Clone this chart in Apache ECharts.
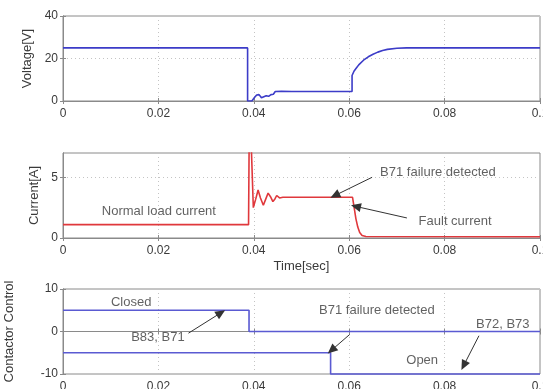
<!DOCTYPE html>
<html>
<head>
<meta charset="utf-8">
<script src="https://cdn.jsdelivr.net/npm/echarts@6/dist/echarts.min.js"></script>
<style>html,body{margin:0;padding:0;background:#fff}#c{width:543px;height:389px}</style>
</head>
<body>
<div id="c"></div>
<script>
// ---- data ----
var xTicks = [0, 0.02, 0.04, 0.06, 0.08, 0.1];

var voltT = [0, 0.0387, 0.0387, 0.0396, 0.0401, 0.0406, 0.0411, 0.0416, 0.0421, 0.0426, 0.0431, 0.0436, 0.0441, 0.0445, 0.0449, 0.0458, 0.0480, 0.0520, 0.0560, 0.0606, 0.0606, 0.0610, 0.0615, 0.0620, 0.0630, 0.0640, 0.0650, 0.0660, 0.0670, 0.0680, 0.0700, 0.0720, 0.0750, 0.1];
var voltV = [25, 25, 0, 0, 1.5, 2.8, 3.0, 1.5, 2.0, 2.5, 2.2, 3.0, 3.2, 4.5, 5.0, 4.6, 4.5, 4.5, 4.5, 4.5, 12, 14, 15.5, 17, 19.2, 20.8, 22, 23, 23.8, 24.3, 24.8, 25, 25, 25];

var currT = [0, 0.0389, 0.0391, 0.0395, 0.0399, 0.0404, 0.0409, 0.0414, 0.0420, 0.0425, 0.0430, 0.0435, 0.0440, 0.0444, 0.0448, 0.0454, 0.0461, 0.0607, 0.0610, 0.0614, 0.0618, 0.0622, 0.0627, 0.0635, 0.1];
var currA = [1.1, 1.1, 12, 12, 2.5, 3.2, 3.95, 3.3, 2.7, 3.2, 3.7, 3.4, 3.0, 3.2, 3.5, 3.3, 3.35, 3.35, 2.6, 1.6, 0.9, 0.45, 0.2, 0.12, 0.1];

var ctrl1T = [0, 0.0390, 0.0390, 0.1];
var ctrl1V = [5, 5, 0, 0];
var ctrl2T = [0, 0.0561, 0.0561, 0.1];
var ctrl2V = [-5, -5, -10, -10];

// y tick labels per panel
var voltTicks = [0, 20, 40];
var currTicks = [0, 5];
var ctrlTicks = [-10, 0, 10];

// annotations: text [t, value, label]; arrows [t0, v0, t1, v1]
var currTexts = [[0.0201, 2.2, 'Normal load current'], [0.0786, 5.4, 'B71 failure detected'], [0.0822, 1.4, 'Fault current']];
var currArrows = [[0.0648, 5.0, 0.0570, 3.5], [0.0721, 1.65, 0.0614, 2.6]];
var ctrlTexts = [[0.0143, 6.9, 'Closed'], [0.0199, -1.5, 'B83, B71'], [0.0658, 5.0, 'B71 failure detected'], [0.0922, 1.75, 'B72, B73'], [0.0753, -6.8, 'Open']];
var ctrlArrows = [[0.0263, -0.4, 0.0331, 4.4], [0.0601, -0.7, 0.0563, -4.4], [0.0872, -1.0, 0.0840, -8.0]];

// ---- chart ----
function zip(a, b) { return a.map(function (v, i) { return [v, b[i]]; }); }
var FONT = 'Liberation Sans';
var TXT = '#3a3a3a';
var AX = '#8a8a8a';

var grids = [
  { left: 63, right: 3, top: 16, height: 85 },
  { left: 63, right: 3, top: 153, height: 85 },
  { left: 63, right: 3, top: 289, height: 85 }
];
grids.forEach(function (g) {
  g.show = true; g.borderColor = AX; g.borderWidth = 1; g.backgroundColor = '#fff';
  g.containLabel = false; g.outerBoundsMode = 'none';
});

var xAxes = [], yAxes = [];
[0, 1, 2].forEach(function (i) {
  xAxes.push({
    gridIndex: i, type: 'value', min: 0, max: 0.1, interval: 0.02,
    axisLine: { show: true, lineStyle: { color: AX } },
    axisTick: { show: true, inside: true, length: 3, lineStyle: { color: AX } },
    axisLabel: { color: TXT, fontSize: 12, fontFamily: FONT, margin: 7, customValues: xTicks,
      formatter: function (v) { return v === 0 ? '0' : String(+(+v).toFixed(2)); } },
    splitLine: { show: true, lineStyle: { color: '#c4c4c4', type: [1, 3] } },
    name: i === 1 ? 'Time[sec]' : '', nameLocation: 'middle', nameGap: 22,
    nameTextStyle: { color: TXT, fontSize: 13, fontFamily: FONT }
  });
  xAxes.push({
    gridIndex: i, type: 'value', min: 0, max: 0.1, interval: 0.02, position: 'top',
    axisLine: { show: true, lineStyle: { color: AX } },
    axisTick: { show: true, inside: true, length: 3, lineStyle: { color: AX } },
    axisLabel: { show: false }, splitLine: { show: false }
  });
});
var yCfg = [
  { min: 0, max: 40, interval: 20, ticks: voltTicks, name: 'Voltage[V]', gap: 24 },
  { min: 0, max: 7, interval: 5, ticks: currTicks, name: 'Current[A]', gap: 18 },
  { min: -10, max: 10, interval: 10, ticks: ctrlTicks, name: 'Contactor Control', gap: 47 }
];
yCfg.forEach(function (c, i) {
  yAxes.push({
    gridIndex: i, type: 'value', min: c.min, max: c.max, interval: c.interval,
    axisLine: { show: true, lineStyle: { color: AX } },
    axisTick: { show: true, inside: true, length: 3, lineStyle: { color: AX }, customValues: c.ticks },
    axisLabel: { color: TXT, fontSize: 12, fontFamily: FONT, margin: 5, customValues: c.ticks },
    splitLine: { show: true, lineStyle: { color: '#c4c4c4', type: [1, 3] } },
    name: c.name, nameLocation: 'middle', nameGap: c.gap,
    nameTextStyle: { color: TXT, fontSize: 13, fontFamily: FONT }
  });
  yAxes.push({
    gridIndex: i, type: 'value', min: c.min, max: c.max, interval: c.interval, position: 'right',
    axisLine: { show: true, lineStyle: { color: AX } },
    axisTick: { show: true, inside: true, length: 3, lineStyle: { color: AX }, customValues: c.ticks },
    axisLabel: { show: false }, splitLine: { show: false }
  });
});

function lineSeries(xi, yi, t, v, color, clip) {
  return {
    type: 'line', xAxisIndex: xi, yAxisIndex: yi, data: zip(t, v), showSymbol: false, symbol: 'none',
    clip: clip, lineStyle: { color: color, width: 1.6 }, silent: true, z: 3
  };
}
function textSeries(xi, yi, arr) {
  return {
    type: 'scatter', xAxisIndex: xi, yAxisIndex: yi, symbolSize: 1, silent: true, z: 5,
    itemStyle: { color: 'rgba(0,0,0,0)' },
    data: arr.map(function (a) { return { value: [a[0], a[1]], name: a[2] }; }),
    label: { show: true, position: 'inside', formatter: '{b}', color: TXT, fontSize: 13, fontFamily: FONT }
  };
}
function arrowSeries(xi, yi, arr) {
  return {
    type: 'line', xAxisIndex: xi, yAxisIndex: yi, data: [], silent: true, z: 6,
    markLine: {
      silent: true, symbol: ['none', 'triangle'], symbolSize: [9, 10], animation: false,
      itemStyle: { color: '#111' },
      lineStyle: { color: '#333', width: 1, type: 'solid' }, label: { show: false },
      data: arr.map(function (a) { return [{ coord: [a[0], a[1]] }, { coord: [a[2], a[3]] }]; })
    }
  };
}

var series = [
  lineSeries(0, 0, voltT, voltV, '#3c3cc8', true),
  lineSeries(2, 2, currT, currA, '#e0383c', true),
  lineSeries(4, 4, ctrl1T, ctrl1V, '#5a5ad2', false),
  lineSeries(4, 4, ctrl2T, ctrl2V, '#5a5ad2', false),
  textSeries(2, 2, currTexts),
  arrowSeries(2, 2, currArrows),
  textSeries(4, 4, ctrlTexts),
  arrowSeries(4, 4, ctrlArrows)
];

var chart = echarts.init(document.getElementById('c'));
chart.setOption({
  animation: false,
  backgroundColor: '#fff',
  grid: grids,
  xAxis: xAxes,
  yAxis: yAxes,
  series: series
});
</script>
</body>
</html>
